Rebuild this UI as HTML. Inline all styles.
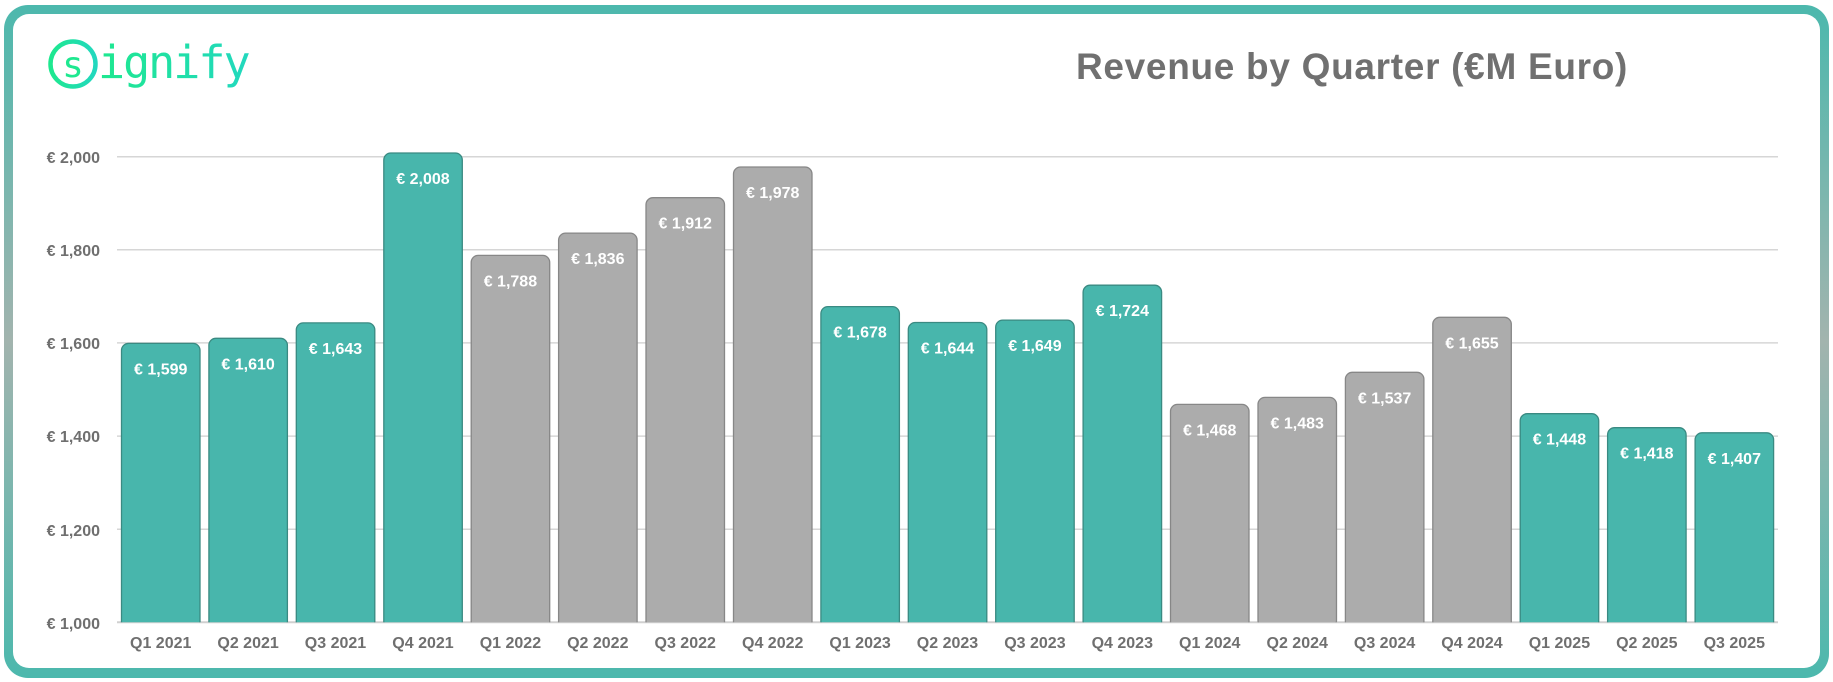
<!DOCTYPE html>
<html><head><meta charset="utf-8"><style>
html,body{margin:0;padding:0;background:#fff;}
svg{display:block;font-family:"Liberation Sans",Arial,sans-serif;}
</style></head><body>
<svg width="1833" height="682" viewBox="0 0 1833 682" xmlns="http://www.w3.org/2000/svg">
<defs>
<linearGradient id="bd" x1="0" y1="0" x2="0" y2="1">
<stop offset="0" stop-color="#4cb8ad"/><stop offset="0.5" stop-color="#a2b4ae"/><stop offset="1" stop-color="#4cb8ad"/>
</linearGradient>
<linearGradient id="lg" x1="0" y1="0" x2="1" y2="0">
<stop offset="0" stop-color="#1ee88f"/><stop offset="1" stop-color="#22d8be"/>
</linearGradient>
<clipPath id="cp"><rect x="0" y="0" width="1833" height="622.3"/></clipPath>
</defs>
<rect x="4" y="5" width="1825" height="673" rx="24" fill="url(#bd)"/>
<rect x="13" y="14" width="1807" height="654" rx="16" fill="#fff"/>
<!-- logo -->
<circle cx="73" cy="64" r="22.5" fill="none" stroke="url(#lg)" stroke-width="4.5"/>
<text x="73" y="77" text-anchor="middle" font-family="DejaVu Sans Mono,monospace" font-size="36" fill="#1ee890">s</text>
<text x="98" y="78" font-family="DejaVu Sans Mono,monospace" font-size="45" fill="url(#lg)" letter-spacing="-2">ignify</text>
<text x="1352" y="79" text-anchor="middle" font-size="37" font-weight="bold" fill="#707070" letter-spacing="0.7">Revenue by Quarter (€M Euro)</text>
<!-- grid -->
<g stroke="#d6d6d6" stroke-width="1.5">
<line x1="117" x2="1778" y1="156.7" y2="156.7"/>
<line x1="117" x2="1778" y1="249.8" y2="249.8"/>
<line x1="117" x2="1778" y1="342.9" y2="342.9"/>
<line x1="117" x2="1778" y1="436.1" y2="436.1"/>
<line x1="117" x2="1778" y1="529.2" y2="529.2"/>
<line x1="117" x2="1778" y1="622.3" y2="622.3" stroke="#d0d0d0" stroke-width="2"/>
</g>
<g font-size="16" font-weight="bold" fill="#6f6f6f" text-anchor="end">
<text x="100" y="163">€ 2,000</text>
<text x="100" y="256">€ 1,800</text>
<text x="100" y="349">€ 1,600</text>
<text x="100" y="442">€ 1,400</text>
<text x="100" y="536">€ 1,200</text>
<text x="100" y="629">€ 1,000</text>
</g>
<g clip-path="url(#cp)" stroke-width="1.3">
<g fill="#48b6ac" stroke="#3a8a82">
<rect x="121.5" y="343.4" width="78.5" height="300" rx="7"/>
<rect x="208.9" y="338.3" width="78.5" height="300" rx="7"/>
<rect x="296.3" y="322.9" width="78.5" height="320" rx="7"/>
<rect x="383.8" y="153.0" width="78.5" height="490" rx="7"/>
<rect x="820.9" y="306.6" width="78.5" height="330" rx="7"/>
<rect x="908.3" y="322.5" width="78.5" height="320" rx="7"/>
<rect x="995.7" y="320.1" width="78.5" height="320" rx="7"/>
<rect x="1083.1" y="285.2" width="78.5" height="350" rx="7"/>
<rect x="1520.2" y="413.7" width="78.5" height="220" rx="7"/>
<rect x="1607.6" y="427.7" width="78.5" height="220" rx="7"/>
<rect x="1695.1" y="432.8" width="78.5" height="220" rx="7"/>
</g>
<g fill="#acacac" stroke="#878787">
<rect x="471.2" y="255.4" width="78.5" height="380" rx="7"/>
<rect x="558.6" y="233.1" width="78.5" height="400" rx="7"/>
<rect x="646.0" y="197.7" width="78.5" height="440" rx="7"/>
<rect x="733.5" y="167.0" width="78.5" height="470" rx="7"/>
<rect x="1170.5" y="404.4" width="78.5" height="230" rx="7"/>
<rect x="1258.0" y="397.4" width="78.5" height="230" rx="7"/>
<rect x="1345.4" y="372.3" width="78.5" height="260" rx="7"/>
<rect x="1432.8" y="317.3" width="78.5" height="320" rx="7"/>
</g>
</g>
<g font-size="16" font-weight="bold" fill="#fff" text-anchor="middle">
<text x="160.7" y="374.4">€ 1,599</text>
<text x="248.1" y="369.3">€ 1,610</text>
<text x="335.5" y="353.9">€ 1,643</text>
<text x="423.0" y="184.0">€ 2,008</text>
<text x="510.4" y="286.4">€ 1,788</text>
<text x="597.8" y="264.1">€ 1,836</text>
<text x="685.2" y="228.7">€ 1,912</text>
<text x="772.7" y="198.0">€ 1,978</text>
<text x="860.1" y="337.6">€ 1,678</text>
<text x="947.5" y="353.5">€ 1,644</text>
<text x="1034.9" y="351.1">€ 1,649</text>
<text x="1122.3" y="316.2">€ 1,724</text>
<text x="1209.7" y="435.4">€ 1,468</text>
<text x="1297.2" y="428.4">€ 1,483</text>
<text x="1384.6" y="403.3">€ 1,537</text>
<text x="1472.0" y="348.3">€ 1,655</text>
<text x="1559.4" y="444.7">€ 1,448</text>
<text x="1646.8" y="458.7">€ 1,418</text>
<text x="1734.3" y="463.8">€ 1,407</text>
</g>
<g font-size="16" font-weight="bold" fill="#6f6f6f" text-anchor="middle">
<text x="160.7" y="648">Q1 2021</text>
<text x="248.1" y="648">Q2 2021</text>
<text x="335.5" y="648">Q3 2021</text>
<text x="423.0" y="648">Q4 2021</text>
<text x="510.4" y="648">Q1 2022</text>
<text x="597.8" y="648">Q2 2022</text>
<text x="685.2" y="648">Q3 2022</text>
<text x="772.7" y="648">Q4 2022</text>
<text x="860.1" y="648">Q1 2023</text>
<text x="947.5" y="648">Q2 2023</text>
<text x="1034.9" y="648">Q3 2023</text>
<text x="1122.3" y="648">Q4 2023</text>
<text x="1209.7" y="648">Q1 2024</text>
<text x="1297.2" y="648">Q2 2024</text>
<text x="1384.6" y="648">Q3 2024</text>
<text x="1472.0" y="648">Q4 2024</text>
<text x="1559.4" y="648">Q1 2025</text>
<text x="1646.8" y="648">Q2 2025</text>
<text x="1734.3" y="648">Q3 2025</text>
</g>
</svg>
</body></html>
